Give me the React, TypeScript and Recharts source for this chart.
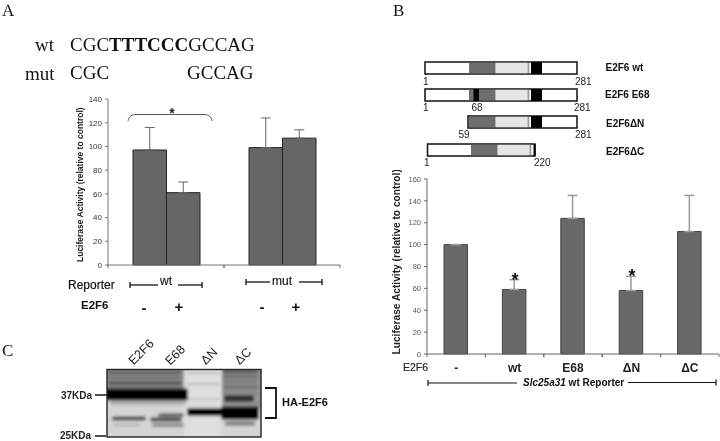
import React from "react";
import { BarChart, Bar, XAxis, YAxis, ErrorBar } from "recharts";

// Panel A
const reporterCats = ["wt", "mut"];
const minusValues = [97, 99];
const plusValues = [61, 107];
const minusErr = [19, 25];
const plusErr = [9, 7];
const ticksA = [0, 20, 40, 60, 80, 100, 120, 140];

// Panel B
const constructCats = ["-", "wt", "E68", "ΔN", "ΔC"];
const constructValues = [100, 59, 124, 58, 112];
const constructErr = [0, 9, 21, 13, 33];
const ticksB = [0, 20, 40, 60, 80, 100, 120, 140, 160];

const dataA = reporterCats.map((r, i) => ({
  r,
  minus: minusValues[i],
  plus: plusValues[i],
  minusE: [0, minusErr[i]],
  plusE: [0, plusErr[i]],
}));
const dataB = constructCats.map((c, i) => ({ c, v: constructValues[i], e: [0, constructErr[i]] }));

const SANS = "'Liberation Sans', Arial, sans-serif";
const SERIF = "'Liberation Serif', 'Times New Roman', serif";

const BoundaryTick = (props: any) => {
  const { x, y, payload, band, dy, size, weight } = props;
  return (
    <g>
      <line x1={x + band / 2} x2={x + band / 2} y1={y - 8} y2={y - 5} stroke="#666" strokeWidth={1} />
      <line x1={x - band / 2} x2={x - band / 2} y1={y - 8} y2={y - 5} stroke="#666" strokeWidth={1} />
      <text x={x} y={y + dy} textAnchor="middle" fontFamily={SANS} fontSize={size} fontWeight={weight} fill="#222" stroke="#222" strokeWidth={weight < 700 ? 0.2 : 0}>
        {payload.value}
      </text>
    </g>
  );
};

// Gel bands: x, y, w, h, grey
const gelBands: [number, number, number, number, string][] = [
  [108, 371, 74, 3, "#555"], [108, 376, 74, 3, "#6a6a6a"], [108, 381, 74, 4, "#555"], [108, 386, 74, 2, "#777"],
  [222, 370, 36, 3, "#444"], [222, 375, 36, 3, "#666"], [222, 380, 36, 3, "#777"], [222, 385, 36, 4, "#777"],
  [186, 372, 34, 2, "#b8b8b8"], [186, 383, 34, 2, "#b8b8b8"], [186, 398, 34, 2, "#c4c4c4"],
  [222, 390, 36, 4, "#888"], [224, 395, 30, 7, "#333"],
  [110, 401, 76, 4, "#b0b0b0"], [112, 416.5, 34, 4, "#444"], [150, 417.5, 32, 4, "#444"], [158, 413.5, 26, 3, "#444"],
  [152, 423, 32, 4, "#8c8c8c"], [112, 424, 28, 2, "#aaa"], [225, 421, 30, 5, "#888"],
  [104, 388.5, 84, 12, "#000"], [187, 408, 35, 8, "#000"], [221, 406.5, 38, 13, "#000"],
];

const Construct = ({ x, y, w, dark, darkW, light, black, strip, gray }: any) => (
  <g>
    <rect x={x} y={y} width={w} height={12} fill="#fff" stroke="#111" strokeWidth={1.5} />
    <rect x={dark} y={y + 0.8} width={darkW} height={10.4} fill="#6e6e6e" />
    <rect x={light} y={y + 0.8} width={gray - light} height={10.4} fill="#e6e6e6" />
    <rect x={gray} y={y + 0.8} width={1.8} height={10.4} fill="#999" />
    <rect x={black} y={y} width={strip} height={12} fill="#000" />
  </g>
);

export default function App() {
  return (
    <div style={{ position: "absolute", left: 0, top: 0, width: 720, height: 441, background: "#fff", overflow: "hidden", filter: "blur(0.35px)" }}>
      {/* Panel A chart */}
      <div style={{ position: "absolute", left: 60, top: 90 }}>
        <BarChart
          width={290}
          height={200}
          data={dataA}
          margin={{ top: 9, right: 10, bottom: 0, left: 0 }}
          barGap={0}
          barSize={33.5}
        >
          <XAxis
            dataKey="r"
            height={25}
            axisLine={{ stroke: "#777" }}
            tickLine={false}
            interval={0}
            tick={<BoundaryTick band={116} dy={12} size={12} weight={400} />}
          />
          <YAxis
            domain={[0, 140]}
            ticks={ticksA}
            width={48}
            tickSize={3}
            tickMargin={3}
            interval={0}
            axisLine={{ stroke: "#777" }}
            tickLine={{ stroke: "#777" }}
            tick={{ fontSize: 8, fontFamily: SANS, fill: "#333" }}
            label={{ value: "Luciferase Activity (relative to control)", angle: -90, position: "insideLeft", dx: 15, dy: 80, fontSize: 8.5, fontWeight: 700, fontFamily: SANS, fill: "#222" }}
          />
          <Bar dataKey="minus" fill="#666" stroke="#222" strokeWidth={1} isAnimationActive={false}>
            <ErrorBar dataKey="minusE" direction="y" width={5} stroke="#666" strokeWidth={1} isAnimationActive={false} />
          </Bar>
          <Bar dataKey="plus" fill="#666" stroke="#222" strokeWidth={1} isAnimationActive={false}>
            <ErrorBar dataKey="plusE" direction="y" width={5} stroke="#666" strokeWidth={1} isAnimationActive={false} />
          </Bar>
        </BarChart>
      </div>

      {/* Panel B chart */}
      <div style={{ position: "absolute", left: 380, top: 170 }}>
        <BarChart
          width={340}
          height={205}
          data={dataB}
          margin={{ top: 9, right: 1, bottom: 0, left: 0 }}
          barSize={23.5}
        >
          <XAxis
            dataKey="c"
            height={21}
            axisLine={{ stroke: "#666" }}
            tickLine={false}
            interval={0}
            tick={<BoundaryTick band={58.4} dy={10} size={12} weight={700} />}
          />
          <YAxis
            domain={[0, 160]}
            ticks={ticksB}
            width={47}
            tickSize={3}
            tickMargin={3}
            interval={0}
            axisLine={{ stroke: "#666" }}
            tickLine={{ stroke: "#666" }}
            tick={{ fontSize: 7.5, fontFamily: SANS, fill: "#555" }}
            label={{ value: "Luciferase Activity (relative to control)", angle: -90, position: "insideLeft", dx: 11, dy: 88, fontSize: 10.2, fontWeight: 700, fontFamily: SANS, fill: "#222" }}
          />
          <Bar dataKey="v" fill="#686868" stroke="#444" strokeWidth={1} isAnimationActive={false}>
            <ErrorBar dataKey="e" direction="y" width={5} stroke="#9a9a9a" strokeWidth={1.5} isAnimationActive={false} />
          </Bar>
        </BarChart>
      </div>

      {/* Everything around the charts */}
      <svg width={720} height={441} style={{ position: "absolute", left: 0, top: 0, pointerEvents: "none" }}>
        <defs>
          <filter id="soft" filterUnits="userSpaceOnUse" x={90} y={350} width={190} height={100}>
            <feGaussianBlur stdDeviation="1.7" />
          </filter>
          <clipPath id="gelClip">
            <rect x={107} y={369.5} width={154} height={67.5} />
          </clipPath>
        </defs>

        {/* Panel letters */}
        <g fontFamily={SERIF} fontSize={17} fill="#111">
          <text x={2} y={16}>A</text>
          <text x={393} y={16}>B</text>
          <text x={2} y={356}>C</text>
        </g>

        {/* Sequences */}
        <g fontFamily={SERIF} fontSize={19} fill="#111">
          <text x={35} y={51}>wt</text>
          <text x={70} y={51}>
            CGC<tspan fontWeight={700}>TTTCCC</tspan>GCCAG
          </text>
          <text x={25} y={80}>mut</text>
          <text x={70} y={79}>CGC</text>
          <text x={187} y={79}>GCCAG</text>
        </g>

        {/* Panel A annotations */}
        <path d="M128 121 C129 116 132 114.5 136 114.5 L204 114.5 C208 114.5 211 116 212 121" fill="none" stroke="#444" strokeWidth={0.9} />
        <text x={172} y={118} textAnchor="middle" fontFamily={SANS} fontSize={14} fontWeight={700} fill="#222">*</text>
        <g fontFamily={SANS} fill="#111">
          <text x={68} y={289} fontSize={12} stroke="#111" strokeWidth={0.2}>Reporter</text>
          <text x={81} y={309} fontSize={11.5} fontWeight={700}>E2F6</text>
          <g fontSize={15} fontWeight={700} textAnchor="middle">
            <text x={144} y={313}>-</text>
            <text x={179} y={312}>+</text>
            <text x={262} y={312}>-</text>
            <text x={296} y={312}>+</text>
          </g>
        </g>
        <g stroke="#111" strokeWidth={1.3}>
          <line x1={130} x2={158} y1={285} y2={285} />
          <line x1={178} x2={202} y1={285} y2={285} />
          <line x1={246} x2={270} y1={282} y2={282} />
          <line x1={299} x2={322} y1={282} y2={282} />
          <line x1={130} x2={130} y1={282} y2={288} />
          <line x1={202} x2={202} y1={282} y2={288} />
          <line x1={246} x2={246} y1={279} y2={285} />
          <line x1={322} x2={322} y1={279} y2={285} />
        </g>

        {/* Panel B constructs */}
        <Construct x={425} y={62} w={152} dark={469} darkW={26.5} light={496} gray={527.5} black={531} strip={11} />
        <Construct x={425} y={89} w={152} dark={469} darkW={26.5} light={496} gray={527.5} black={531} strip={11} />
        <rect x={473.5} y={89} width={5.5} height={12} fill="#000" />
        <Construct x={468} y={116} w={109} dark={469} darkW={26.5} light={496} gray={527.5} black={531} strip={11} />
        <Construct x={427.5} y={144} w={107.5} dark={471} darkW={26.5} light={498} gray={529.5} black={533.5} strip={2} />
        <g fontFamily={SANS} fontSize={10} fill="#222">
          <text x={423} y={85}>1</text>
          <text x={575} y={85}>281</text>
          <text x={423} y={111}>1</text>
          <text x={477} y={111} textAnchor="middle">68</text>
          <text x={574} y={111}>281</text>
          <text x={464} y={138} textAnchor="middle">59</text>
          <text x={575} y={138}>281</text>
          <text x={424} y={166}>1</text>
          <text x={534} y={166}>220</text>
        </g>
        <g fontFamily={SANS} fontSize={10} fontWeight={700} fill="#111">
          <text x={605.5} y={71}>E2F6 wt</text>
          <text x={605} y={98}>E2F6 E68</text>
          <text x={606} y={127}>E2F6ΔN</text>
          <text x={606} y={155}>E2F6ΔC</text>
        </g>

        {/* Panel B annotations */}
        <g fontFamily={SANS} fontSize={18} fontWeight={700} fill="#111" textAnchor="middle">
          <text x={515} y={286}>*</text>
          <text x={632} y={282}>*</text>
        </g>
        <text x={403} y={371} fontFamily={SANS} fontSize={10.5} fill="#222" stroke="#222" strokeWidth={0.15}>E2F6</text>
        <g stroke="#111" strokeWidth={1.2}>
          <line x1={428} x2={517} y1={383} y2={383} />
          <line x1={628} x2={716} y1={382.5} y2={382.5} />
          <line x1={428} x2={428} y1={380} y2={386} />
          <line x1={716} x2={716} y1={379.5} y2={385.5} />
        </g>
        <text x={523} y={386} fontFamily={SANS} fontSize={10} fontWeight={700} fill="#111">
          <tspan fontStyle="italic">Slc25a31</tspan> wt Reporter
        </text>

        {/* Panel C gel */}
        <rect x={107} y={370} width={154} height={67} fill="#d4d4d4" />
        <g clipPath="url(#gelClip)">
          <g filter="url(#soft)">
            <rect x={100} y={360} width={170} height={85} fill="#d4d4d4" />
            <rect x={184} y={362} width={37} height={80} fill="#dedede" />
            <rect x={100} y={362} width={84} height={28} fill="#939393" />
            <rect x={222} y={362} width={44} height={46} fill="#939393" />
            {gelBands.map(([x, y, w, h, c], i) => (
              <rect key={i} x={x} y={y} width={w} height={h} rx={2} fill={c} />
            ))}
          </g>
        </g>
        <rect x={107} y={369.5} width={154} height={67.5} fill="none" stroke="#222" strokeWidth={1.4} />
        <g fontFamily={SANS} fontSize={12.5} fill="#222" textAnchor="middle">
          <text transform="translate(144 355) rotate(-45)">E2F6</text>
          <text transform="translate(178 358) rotate(-45)">E68</text>
          <text transform="translate(212 359) rotate(-45)">ΔN</text>
          <text transform="translate(246 359) rotate(-45)">ΔC</text>
        </g>
        <g fontFamily={SANS} fontSize={10} fontWeight={700} fill="#222">
          <text x={61} y={399}>37KDa</text>
          <text x={60} y={439}>25KDa</text>
        </g>
        <g stroke="#222" strokeWidth={1.6}>
          <line x1={95} x2={107} y1={395} y2={395} />
          <line x1={95} x2={106} y1={436} y2={436} />
        </g>
        <path d="M265 388 H276 V418 H265" fill="none" stroke="#111" strokeWidth={1.8} />
        <text x={282} y={406} fontFamily={SANS} fontSize={11} fontWeight={700} fill="#111">HA-E2F6</text>
      </svg>
    </div>
  );
}
